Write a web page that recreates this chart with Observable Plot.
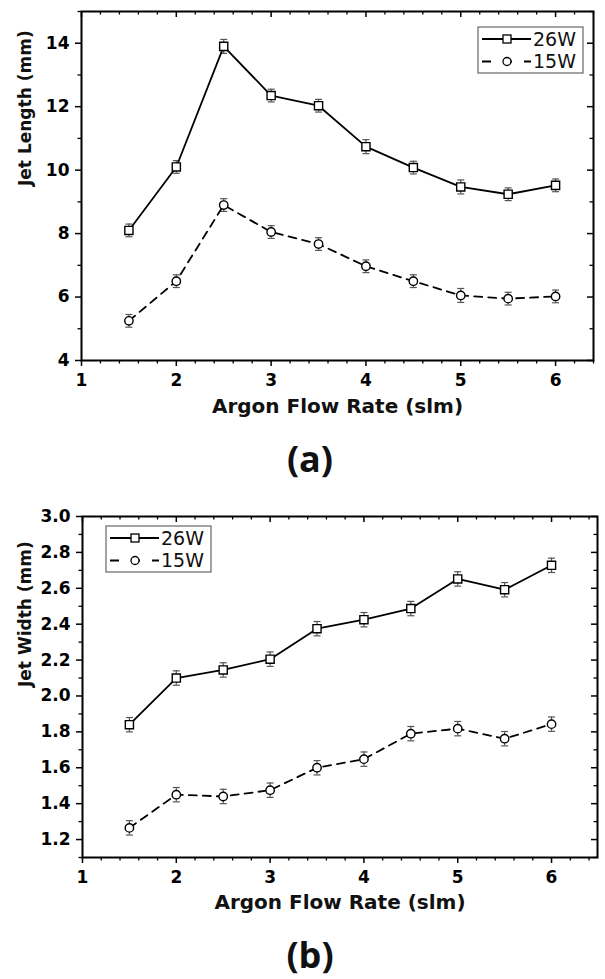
<!DOCTYPE html>
<html><head><meta charset="utf-8">
<script src="https://cdn.jsdelivr.net/npm/d3@7"></script>
<script src="https://cdn.jsdelivr.net/npm/@observablehq/plot@0.6"></script>
<style>
html,body{margin:0;padding:0;background:#fff;width:605px;height:979px;overflow:hidden}
#wrap{position:relative;width:605px;height:979px}
.panel{position:absolute;left:0}
.tag{position:absolute;left:0;width:620px;text-align:center;font-family:"Open Sans";font-weight:700;font-size:36px;line-height:46px;color:#111}
</style></head><body><div id="wrap"></div>
<script>
// ---------- data ----------
const flowRate = [1.5, 2, 2.5, 3, 3.5, 4, 4.5, 5, 5.5, 6];
const seriesNames = ["26W", "15W"];

const jetLength26 = [8.1, 10.1, 13.9, 12.35, 12.03, 10.74, 10.08, 9.47, 9.24, 9.52];
const jetLength15 = [5.25, 6.5, 8.9, 8.05, 7.67, 6.97, 6.5, 6.05, 5.95, 6.02];
const jetLengthErr26 = [0.2, 0.2, 0.22, 0.2, 0.2, 0.22, 0.2, 0.22, 0.2, 0.2];
const jetLengthErr15 = [0.2, 0.2, 0.2, 0.2, 0.2, 0.2, 0.2, 0.22, 0.2, 0.2];

const jetWidth26 = [1.84, 2.1, 2.145, 2.205, 2.375, 2.425, 2.487, 2.652, 2.592, 2.728];
const jetWidth15 = [1.265, 1.45, 1.44, 1.475, 1.6, 1.648, 1.79, 1.818, 1.762, 1.843];
const jetWidthErr26 = [0.04, 0.04, 0.04, 0.04, 0.04, 0.04, 0.04, 0.04, 0.04, 0.04];
const jetWidthErr15 = [0.04, 0.04, 0.04, 0.04, 0.04, 0.04, 0.04, 0.04, 0.04, 0.04];

const xMajorTicks = [1, 2, 3, 4, 5, 6];
const xMinorTicks = [1.2, 1.4, 1.6, 1.8, 2.2, 2.4, 2.6, 2.8, 3.2, 3.4, 3.6, 3.8, 4.2, 4.4, 4.6, 4.8, 5.2, 5.4, 5.6, 5.8, 6.2, 6.4];
const lengthMajorTicks = [4, 6, 8, 10, 12, 14];
const lengthMinorTicks = [5, 7, 9, 11, 13, 15];
const widthMajorTicks = [1.2, 1.4, 1.6, 1.8, 2.0, 2.2, 2.4, 2.6, 2.8, 3.0];
const widthMinorTicks = [1.1, 1.3, 1.5, 1.7, 1.9, 2.1, 2.3, 2.5, 2.7, 2.9];

const xLabel = "Argon Flow Rate (slm)";
const lengthLabel = "Jet Length (mm)";
const widthLabel = "Jet Width (mm)";
const panelTags = ["(a)", "(b)"];

// ---------- helpers ----------
const rowsOf = (vals, errs) => flowRate.map((x, i) => ({x, y: vals[i], e: errs[i]}));
const capSymbol = {draw(ctx) { ctx.moveTo(-3.5, 0); ctx.lineTo(3.5, 0); }};

function panel(o) {
  const W = 605;
  const innerH = o.h - o.mt - o.mb, innerW = W - o.ml - o.mr;
  const r26 = rowsOf(o.s26, o.e26), r15 = rowsOf(o.s15, o.e15);
  const all = r26.concat(r15);
  const xMinor = xMinorTicks.filter(d => d <= o.xDom[1]);
  const yMinor = o.yMinor.filter(d => d >= o.yDom[0] && d <= o.yDom[1]);
  const svg = Plot.plot({
    width: W, height: o.h,
    marginTop: o.mt, marginBottom: o.mb, marginLeft: o.ml, marginRight: o.mr,
    x: {domain: o.xDom}, y: {domain: o.yDom},
    style: {fontFamily: "DejaVu Sans", fontWeight: "bold", fontSize: "17px", color: "#000", background: "#fff", overflow: "visible"},
    marks: [
      Plot.axisX(xMajorTicks, {tickSize: 6, tickPadding: 7, strokeWidth: 1.5, tickFormat: d => String(d), label: null, fontSize: 17, fontWeight: "bold"}),
      Plot.axisX(xMinor, {tickSize: 3.5, strokeWidth: 1.3, tickFormat: () => "", label: null}),
      Plot.axisY(o.yMajor, {tickSize: 6, tickPadding: 6, strokeWidth: 1.5, tickFormat: o.yFmt, label: null, fontSize: 17, fontWeight: "bold"}),
      Plot.axisY(yMinor, {tickSize: 3.5, strokeWidth: 1.3, tickFormat: () => "", label: null}),
      Plot.tickX(xMajorTicks, {x: d => d, insetBottom: innerH - 6, strokeWidth: 1.5}),
      Plot.tickX(xMinor, {x: d => d, insetBottom: innerH - 3.5, strokeWidth: 1.3}),
      Plot.tickY(o.yMajor, {y: d => d, insetLeft: innerW - 6, strokeWidth: 1.5}),
      Plot.tickY(yMinor, {y: d => d, insetLeft: innerW - 3.5, strokeWidth: 1.3}),
      Plot.frame({strokeWidth: 2, stroke: "#000"}),
      Plot.ruleX(all, {x: "x", y1: d => d.y - d.e, y2: d => d.y + d.e, stroke: "#555", strokeWidth: 1.2}),
      Plot.dot(all, {x: "x", y: d => d.y - d.e, symbol: capSymbol, stroke: "#555", strokeWidth: 1.2}),
      Plot.dot(all, {x: "x", y: d => d.y + d.e, symbol: capSymbol, stroke: "#555", strokeWidth: 1.2}),
      Plot.line(r26, {x: "x", y: "y", stroke: "#000", strokeWidth: 1.8}),
      Plot.line(r15, {x: "x", y: "y", stroke: "#000", strokeWidth: 1.8, strokeDasharray: "8,6"}),
      Plot.dot(r26, {x: "x", y: "y", symbol: "square", r: 4.6, fill: "#fff", stroke: "#000", strokeWidth: 1.4}),
      Plot.dot(r15, {x: "x", y: "y", symbol: "circle", r: 4.2, fill: "#fff", stroke: "#000", strokeWidth: 1.4}),
      Plot.text([xLabel], {frameAnchor: "bottom", dy: o.xlDy, text: d => d, fontSize: 20, fontWeight: "bold", fill: "#111"}),
      Plot.text([o.ylabel], {frameAnchor: "left", dx: o.ylDx, rotate: -90, text: d => d, fontSize: 17, fontWeight: "bold", fill: "#111"})
    ]
  });
  // legend
  const g = d3.select(svg).append("g").attr("text-anchor", "start");
  const L = o.legend;
  g.append("rect").attr("x", L.x).attr("y", L.y).attr("width", L.w).attr("height", L.h)
    .attr("fill", "#fff").attr("stroke", "#666").attr("stroke-width", 1.2);
  const rowY = [L.y + 12, L.y + 34.5];
  const lx0 = L.x + 4, lx1 = L.x + 53, mx = L.x + 29;
  g.append("line").attr("x1", lx0).attr("x2", lx1).attr("y1", rowY[0]).attr("y2", rowY[0]).attr("stroke", "#000").attr("stroke-width", 1.8);
  g.append("rect").attr("x", mx - 4).attr("y", rowY[0] - 4).attr("width", 8).attr("height", 8).attr("fill", "#fff").attr("stroke", "#000").attr("stroke-width", 1.3);
  g.append("line").attr("x1", lx0).attr("x2", lx1).attr("y1", rowY[1]).attr("y2", rowY[1]).attr("stroke", "#000").attr("stroke-width", 1.8).attr("stroke-dasharray", "9,12");
  g.append("circle").attr("cx", mx).attr("cy", rowY[1]).attr("r", 4).attr("fill", "#fff").attr("stroke", "#000").attr("stroke-width", 1.3);
  seriesNames.forEach((s, i) => {
    g.append("text").attr("x", L.x + 55).attr("y", rowY[i]).attr("dy", "0.36em").attr("text-anchor", "start")
      .attr("font-family", "DejaVu Sans").attr("font-weight", "normal").attr("font-size", 19).attr("fill", "#111").text(s);
  });
  return svg;
}

const wrap = document.getElementById("wrap");

const top1 = panel({h: 430, mt: 11, mb: 70, ml: 81, mr: 12, xDom: [1, 6.4], yDom: [4, 15],
  yMajor: lengthMajorTicks, yMinor: lengthMinorTicks, yFmt: d => String(d), ylabel: lengthLabel,
  s26: jetLength26, s15: jetLength15, e26: jetLengthErr26, e15: jetLengthErr15,
  xlDy: 52, ylDx: -56, legend: {x: 478, y: 27, w: 105, h: 46}});
top1.classList.add("panel"); top1.style.top = "0px";
wrap.appendChild(top1);

const tagA = document.createElement("div");
tagA.className = "tag"; tagA.style.top = "436px"; tagA.textContent = panelTags[0];
wrap.appendChild(tagA);

const bot = panel({h: 440, mt: 26, mb: 73, ml: 82, mr: 8, xDom: [1, 6.49], yDom: [1.1, 3.0],
  yMajor: widthMajorTicks, yMinor: widthMinorTicks, yFmt: d3.format(".1f"), ylabel: widthLabel,
  s26: jetWidth26, s15: jetWidth15, e26: jetWidthErr26, e15: jetWidthErr15,
  xlDy: 51, ylDx: -57, legend: {x: 106, y: 36, w: 105, h: 46}});
bot.classList.add("panel"); bot.style.top = "490px";
wrap.appendChild(bot);

const tagB = document.createElement("div");
tagB.className = "tag"; tagB.style.top = "932px"; tagB.textContent = panelTags[1];
wrap.appendChild(tagB);
</script></body></html>
